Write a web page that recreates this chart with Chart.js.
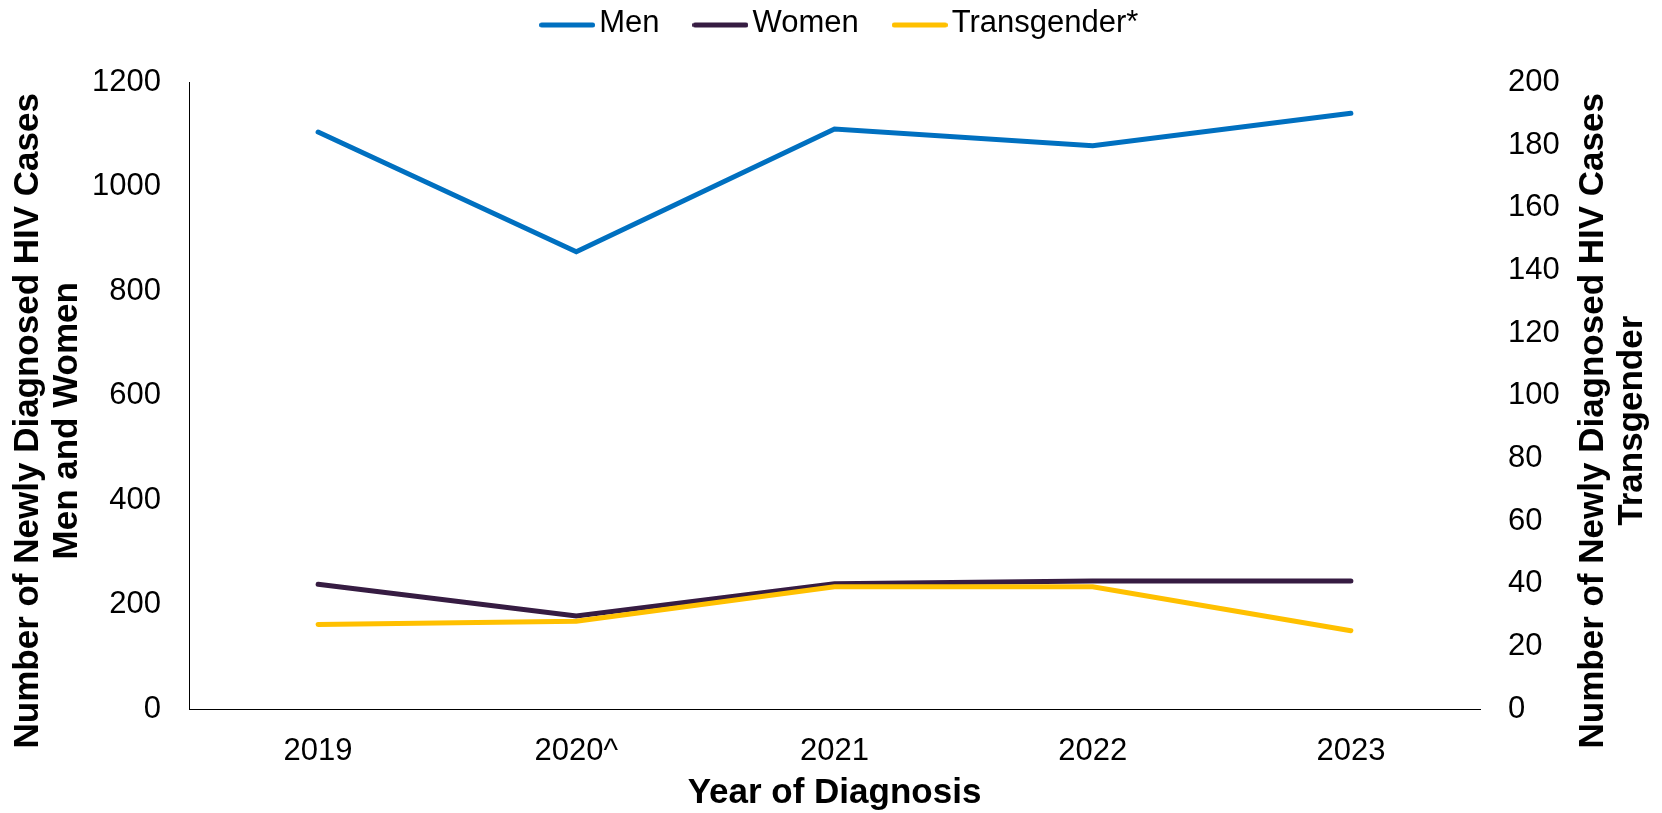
<!DOCTYPE html>
<html>
<head>
<meta charset="utf-8">
<script src="https://cdn.jsdelivr.net/npm/chart.js@4.4.1/dist/chart.umd.min.js"></script>
<style>
  html, body { margin: 0; padding: 0; background: #fff; }
  #wrap { width: 1662px; height: 813px; position: relative; }
</style>
</head>
<body>
<div id="wrap"><canvas id="chart"></canvas></div>
<script>
const years = ['2019', '2020^', '2021', '2022', '2023'];
const men = [1105, 876, 1111, 1079, 1141];
const women = [239, 178, 240, 245, 245];
const transgender = [27, 28, 39, 39, 25];
const leftTitle = ['Number of Newly Diagnosed HIV Cases', 'Men and Women'];
const rightTitle = ['Number of Newly Diagnosed HIV Cases', 'Transgender'];
const xTitle = 'Year of Diagnosis';

const FONT = '"Liberation Sans", Arial, sans-serif';
const COLORS = { men: '#0070c0', women: '#361c42', trans: '#ffc000' };

// legend swatch: short thick line, drawn as an image so the gap to the text stays small
function legendLine(color) {
  const c = document.createElement('canvas');
  c.width = 56;
  c.height = 10;
  const g = c.getContext('2d');
  g.strokeStyle = color;
  g.lineWidth = 5;
  g.lineCap = 'round';
  g.beginPath();
  g.moveTo(2.5, 7);
  g.lineTo(53.5, 7);
  g.stroke();
  return c;
}

// both vertical titles read bottom-to-top, like the original
const sideTitles = {
  id: 'sideTitles',
  afterDraw(chart) {
    const { ctx, chartArea } = chart;
    const cy = (chartArea.top + chartArea.bottom) / 2 + 25;
    const sets = [
      [leftTitle, [chartArea.left - 161, chartArea.left - 122]],
      [rightTitle, [chartArea.right + 113, chartArea.right + 152]],
    ];
    ctx.save();
    ctx.font = 'bold 35px ' + FONT;
    ctx.fillStyle = '#000';
    ctx.textAlign = 'center';
    ctx.textBaseline = 'middle';
    sets.forEach(([lines, xs]) => {
      lines.forEach((t, i) => {
        ctx.save();
        ctx.translate(xs[i], cy);
        ctx.rotate(-Math.PI / 2);
        ctx.fillText(t, 0, 0);
        ctx.restore();
      });
    });
    ctx.restore();
  },
};

// more room under the legend
const legendSpace = {
  id: 'legendSpace',
  beforeInit(chart) {
    if (!chart.legend) return;
    const fit = chart.legend.fit;
    chart.legend.fit = function () {
      fit.call(this);
      this.height += 34;
    };
  },
};

const tickFont = { family: FONT, size: 31 };
const plain = v => String(v);

new Chart(document.getElementById('chart'), {
  type: 'line',
  data: {
    labels: years,
    datasets: [
      { label: 'Men', data: men, borderColor: COLORS.men, backgroundColor: COLORS.men, yAxisID: 'y', order: 3, pointStyle: legendLine(COLORS.men) },
      { label: 'Women', data: women, borderColor: COLORS.women, backgroundColor: COLORS.women, yAxisID: 'y', order: 2, pointStyle: legendLine(COLORS.women) },
      { label: 'Transgender*', data: transgender, borderColor: COLORS.trans, backgroundColor: COLORS.trans, yAxisID: 'y1', order: 1, pointStyle: legendLine(COLORS.trans) },
    ],
  },
  options: {
    responsive: true,
    maintainAspectRatio: false,
    animation: false,
    layout: { padding: { top: -37, left: 27, right: 0, bottom: 0 } },
    elements: {
      line: { borderWidth: 5, tension: 0, fill: false, borderCapStyle: 'round' },
      point: { radius: 0, hoverRadius: 0 },
    },
    plugins: {
      legend: {
        position: 'top',
        labels: {
          usePointStyle: true,
          pointStyleWidth: 33,
          padding: 44.5,
          color: '#000',
          font: tickFont,
          sort: (a, b) => a.datasetIndex - b.datasetIndex,
        },
      },
      tooltip: { enabled: false },
    },
    scales: {
      x: {
        offset: true,
        grid: { display: false, drawTicks: false, offset: true },
        border: { display: true, color: '#000', width: 1 },
        ticks: { padding: 24, color: '#000', font: tickFont },
        title: {
          display: true,
          text: xTitle,
          color: '#000',
          font: { family: FONT, size: 35, weight: 'bold', lineHeight: 1.15 },
          padding: { top: 0, bottom: 0 },
        },
        afterFit: s => { s.height = 104; },
      },
      y: {
        position: 'left',
        min: 0,
        max: 1200,
        grid: { display: false, drawTicks: false },
        border: { display: true, color: '#000', width: 1 },
        ticks: { stepSize: 200, padding: 28, color: '#000', font: tickFont, callback: plain },
        afterFit: s => { s.width = 162; },
      },
      y1: {
        position: 'right',
        min: 0,
        max: 200,
        grid: { display: false, drawTicks: false },
        border: { display: false },
        ticks: { stepSize: 20, padding: 28, color: '#000', font: tickFont, callback: plain },
        afterFit: s => { s.width = 182; },
      },
    },
  },
  plugins: [sideTitles, legendSpace],
});
</script>
</body>
</html>
